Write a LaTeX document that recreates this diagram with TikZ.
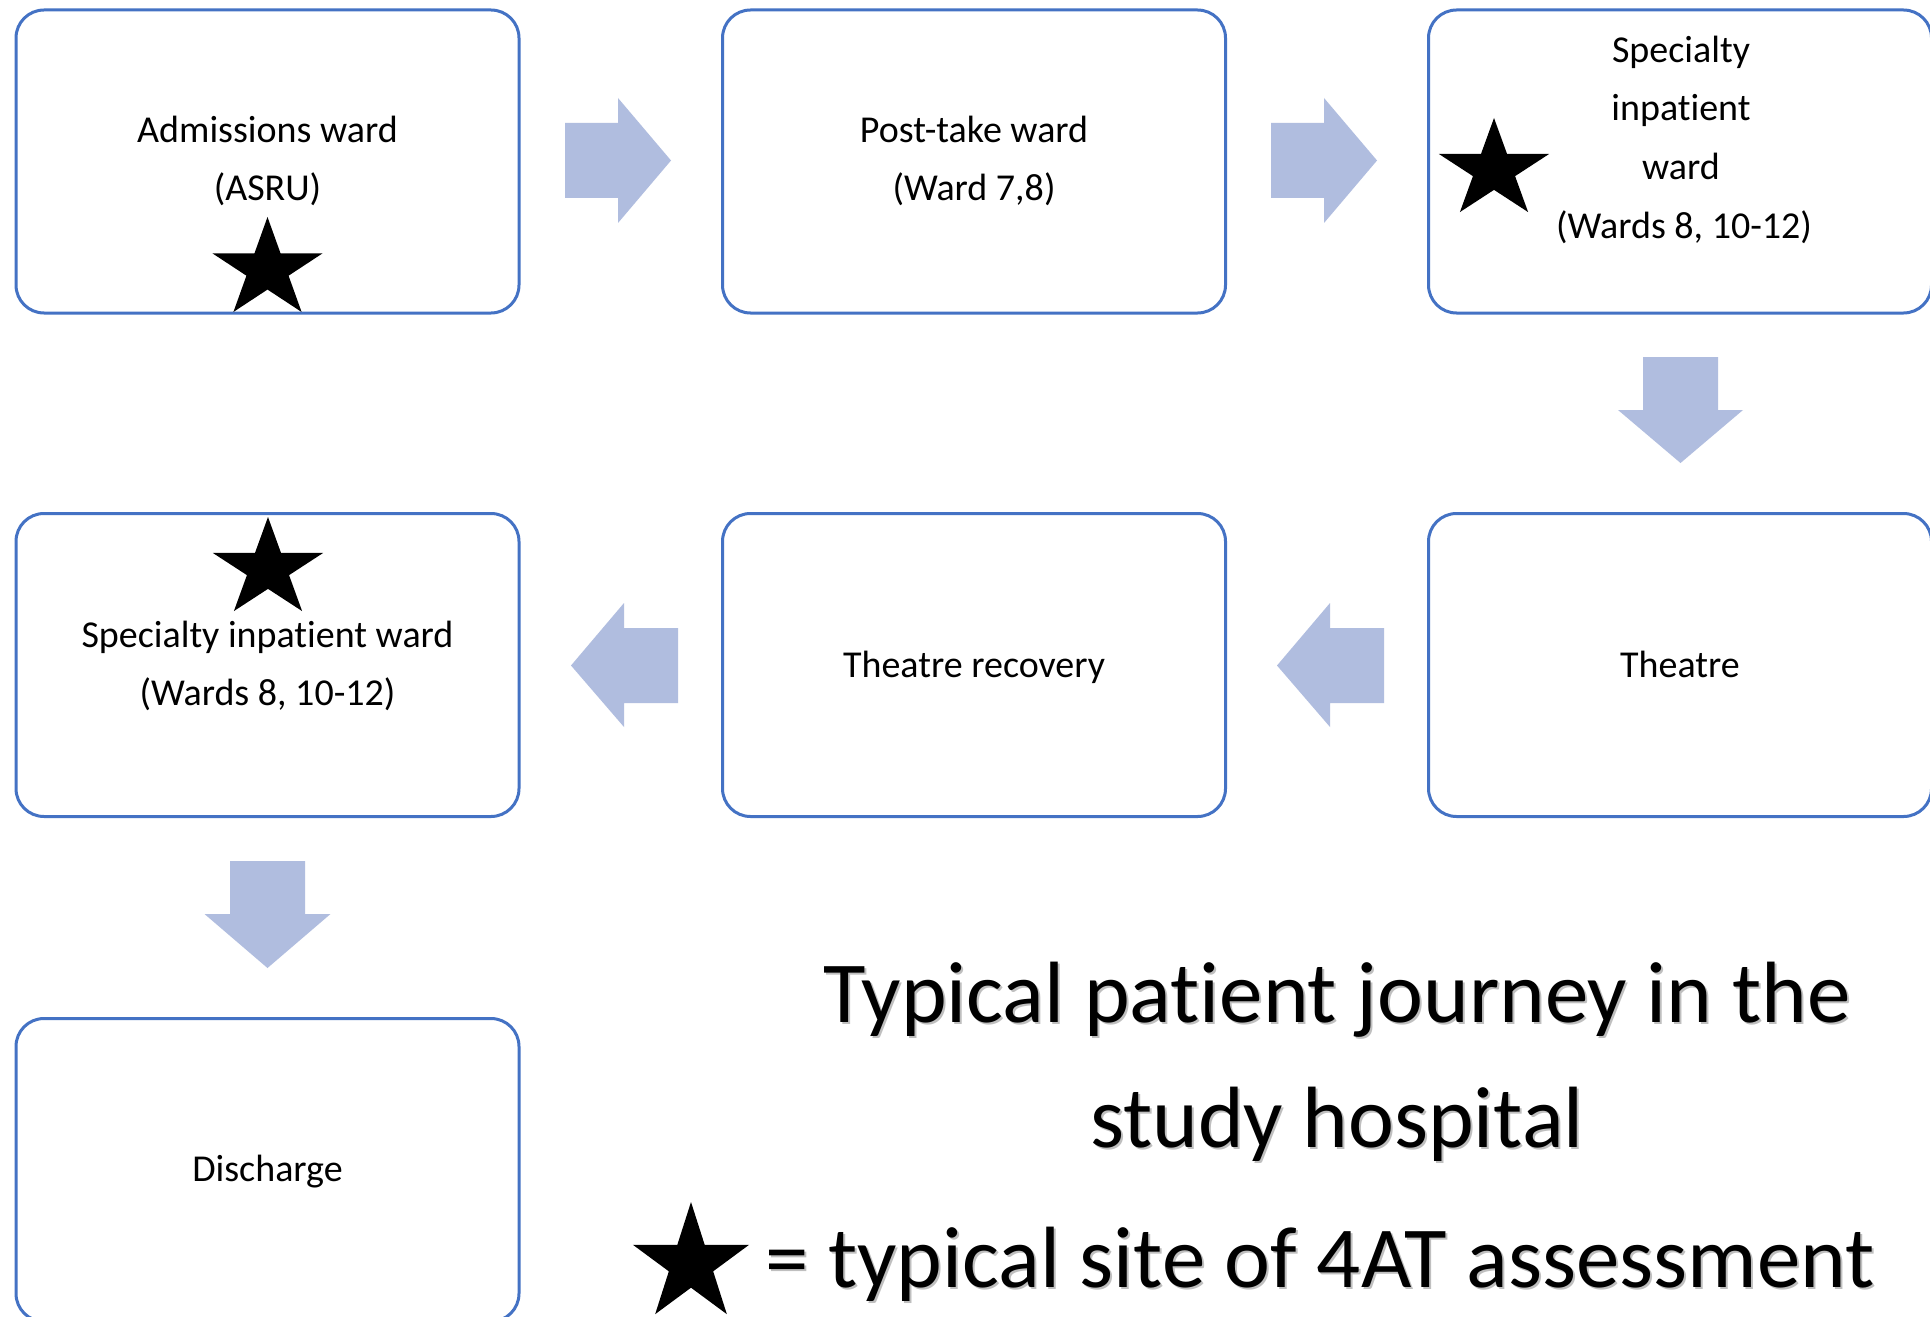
\documentclass[tikz,border=0pt]{standalone}
\usepackage{fontspec}
\setmainfont[Ligatures=NoCommon]{Carlito}
\definecolor{boxblue}{HTML}{4472C4}
\definecolor{arrowfill}{HTML}{B0BDDF}
\tikzset{
  wardbox/.style={draw=boxblue, line width=1.5pt, rounded corners=14pt, fill=white,
    minimum width=251.5pt, minimum height=151.5pt, inner sep=0pt},
  wardtext/.style={anchor=base, inner sep=0pt, font=\fontsize{19}{23}\selectfont},
  titletext/.style={anchor=base, inner sep=0pt, font=\fontsize{43.5}{50}\selectfont},
  shadowtext/.style={titletext, text=black!25},
  blockarrow/.style={fill=arrowfill, draw=none},
}
\newcommand{\mystar}[4]{%
  \begin{scope}[shift={(#1,#2)}, xscale=#3, yscale=-#4]
    \fill[black] (90:1) -- (126:0.382) -- (162:1) -- (198:0.382) -- (234:1) -- (270:0.382)
      -- (306:1) -- (342:0.382) -- (18:1) -- (54:0.382) -- cycle;
  \end{scope}}
\begin{document}
\begin{tikzpicture}[x=0.5pt, y=-0.5pt]
\path[use as bounding box, fill=white] (0,0) rectangle (1930,1316);
% boxes
\node[wardbox] (b1) at (267.5,161.5) {};
\node[wardbox] (b2) at (974,161.5) {};
\node[wardbox] (b3) at (1680,161.5) {};
\node[wardbox] (b4) at (267.5,665) {};
\node[wardbox] (b5) at (974,665) {};
\node[wardbox] (b6) at (1680,665) {};
\node[wardbox] (b7) at (267.5,1170) {};
% texts
\node[wardtext] (t1a) at (267.5,143) {Admissions ward};
\node[wardtext] (t1b) at (267.5,201) {(ASRU)};
\node[wardtext] (t2a) at (974,143) {Post-take ward};
\node[wardtext] (t2b) at (974,201) {(Ward 7,8)};
\node[wardtext] (t3a) at (1681,63) {Specialty};
\node[wardtext] (t3b) at (1681,121) {inpatient};
\node[wardtext] (t3c) at (1681,180) {ward};
\node[wardtext] (t3d) at (1684,238) {(Wards 8, 10-12)};
\node[wardtext] (t4a) at (267.5,647) {Specialty inpatient ward};
\node[wardtext] (t4b) at (267.5,705) {(Wards 8, 10-12)};
\node[wardtext] (t5) at (974,677) {Theatre recovery};
\node[wardtext] (t6) at (1680,677) {Theatre};
\node[wardtext] (t7) at (267.5,1181) {Discharge};
% block arrows
\fill[blockarrow] (565,123) -- (618,123) -- (618,98) -- (671,160.5) -- (618,223) -- (618,198) -- (565,198) -- cycle;
\fill[blockarrow] (1271,123) -- (1324,123) -- (1324,98) -- (1377,160.5) -- (1324,223) -- (1324,198) -- (1271,198) -- cycle;
\fill[blockarrow] (1643,357) -- (1718,357) -- (1718,410) -- (1743,410) -- (1680.5,463) -- (1618,410) -- (1643,410) -- cycle;
\fill[blockarrow] (678,628) -- (624,628) -- (624,603) -- (571,665.5) -- (624,727) -- (624,703) -- (678,703) -- cycle;
\fill[blockarrow] (1384,628) -- (1330,628) -- (1330,603) -- (1277,665.5) -- (1330,727) -- (1330,703) -- (1384,703) -- cycle;
\fill[blockarrow] (230,861) -- (305,861) -- (305,914) -- (330.5,914) -- (267.5,968) -- (204.5,914) -- (230,914) -- cycle;
% stars
\mystar{267.5}{269.5}{58}{52.5}
\mystar{1494}{170}{58}{52}
\mystar{268}{569}{58}{52}
\mystar{691}{1264}{61}{62}
% title
\node[shadowtext] at (1339,1024) {Typical patient journey in the};
\node[titletext] (title1) at (1337,1022) {Typical patient journey in the};
\node[shadowtext] at (1339,1149) {study hospital};
\node[titletext] (title2) at (1337,1147) {study hospital};
\node[shadowtext] at (1322,1289) {= typical site of 4AT assessment};
\node[titletext] (legend) at (1320,1287) {= typical site of 4AT assessment};
\end{tikzpicture}
\end{document}
